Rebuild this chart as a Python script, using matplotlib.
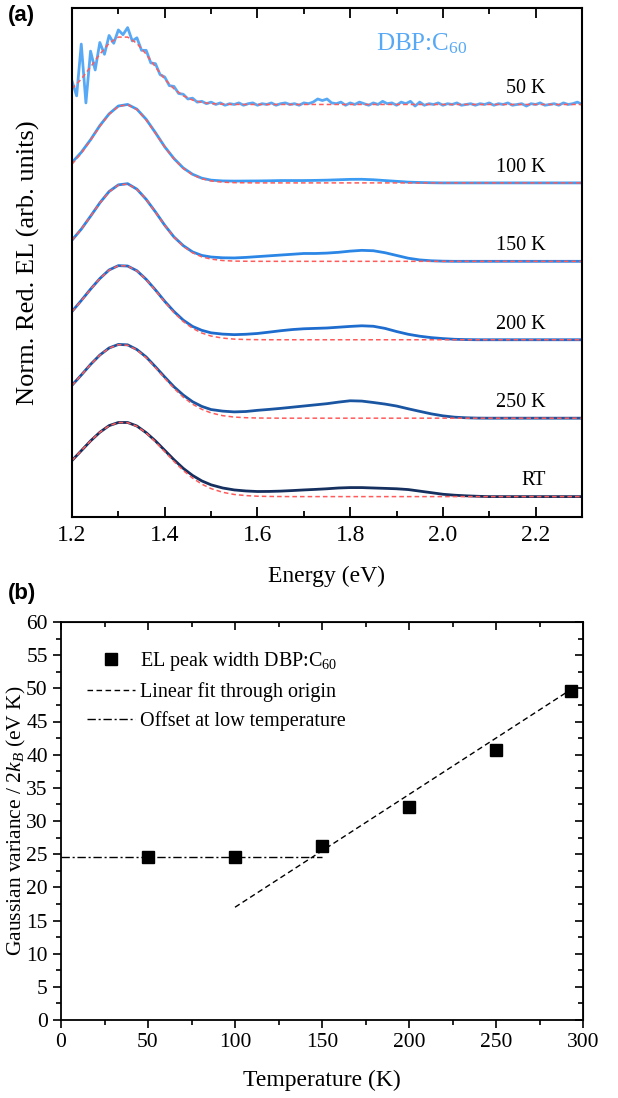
import matplotlib
matplotlib.use('Agg')
import matplotlib.pyplot as plt
from matplotlib.ticker import MultipleLocator, FormatStrFormatter
import numpy as np

plt.rcParams['font.family'] = ['Liberation Serif', 'DejaVu Serif']
plt.rcParams['mathtext.fontset'] = 'custom'
plt.rcParams['mathtext.rm'] = 'Liberation Serif'
plt.rcParams['mathtext.it'] = 'Liberation Serif:italic'

# ---------------- panel (a) data ----------------
energy = [1.20, 1.22, 1.24, 1.26, 1.28, 1.30, 1.32, 1.34, 1.36, 1.38, 1.40, 1.42,
          1.44, 1.46, 1.48, 1.50,
          1.525, 1.55, 1.575, 1.60, 1.625, 1.65, 1.675, 1.70, 1.725, 1.75, 1.775,
          1.80, 1.825, 1.85, 1.875, 1.90, 1.925, 1.95, 1.975, 2.00, 2.025, 2.05,
          2.075, 2.10,
          2.15, 2.20, 2.25, 2.30]

energy_50K = np.round(np.arange(1.20, 2.3001, 0.01), 2)
el_50K = [0.30, 0.11, 0.77, 0.02, 0.68, 0.44, 0.79, 0.64, 0.88, 0.78,
          0.95, 0.89, 0.98, 0.81, 0.85, 0.69, 0.69, 0.53, 0.52, 0.38,
          0.35, 0.24, 0.23, 0.14, 0.13, 0.07, 0.08, 0.03, 0.04, 0.01,
          0.03, 0.00, 0.02, -0.01, 0.01, 0.00, 0.02, -0.01, 0.01, 0.02,
          -0.01, 0.01, 0.00, 0.02, -0.01, 0.01, 0.02, 0.00, 0.01, -0.01,
          0.02, 0.01, 0.03, 0.07, 0.05, 0.07, 0.02, 0.01, 0.03, -0.01,
          0.02, 0.00, 0.03, 0.01, -0.01, 0.02, 0.00, 0.04, 0.01, 0.02,
          -0.01, 0.03, 0.01, 0.04, -0.02, 0.03, -0.01, 0.01, 0.00, 0.02,
          -0.01, 0.01, 0.00, 0.02, -0.01, 0.00, 0.01, -0.01, 0.01, 0.00,
          0.02, -0.01, 0.01, 0.00, 0.02, -0.01, 0.00, 0.01, -0.02, 0.01,
          0.00, 0.02, -0.01, 0.00, 0.01, -0.01, 0.02, 0.00, 0.01, 0.03,
          0.00]
fit_50K = [0.199, 0.324, 0.478, 0.641, 0.779, 0.859, 0.859, 0.779, 0.641, 0.478,
           0.324, 0.199, 0.111, 0.056, 0.026, 0.011,
           0.004, 0.001] + [0.0] * 22 + [0.0] * 4

el_100K = [0.26, 0.39, 0.55, 0.73, 0.88, 0.98, 1.00, 0.94, 0.81, 0.64, 0.46, 0.31,
           0.19, 0.11, 0.06, 0.035,
           0.025, 0.023, 0.024, 0.025, 0.027, 0.03, 0.03, 0.03, 0.032, 0.035,
           0.04, 0.045, 0.046, 0.04, 0.03, 0.02, 0.01, 0.005, 0.002, 0, 0, 0,
           0, 0,
           0, 0, 0, 0]
fit_100K = [0.239, 0.377, 0.544, 0.721, 0.876, 0.976, 0.997, 0.935, 0.803, 0.633,
            0.458, 0.304, 0.185, 0.103, 0.053, 0.025,
            0.009, 0.003, 0.001] + [0.0] * 21 + [0.0] * 4

el_150K = [0.27, 0.41, 0.575, 0.745, 0.89, 0.975, 0.99, 0.92, 0.79, 0.63, 0.46,
           0.31, 0.20, 0.12, 0.075, 0.055,
           0.045, 0.043, 0.05, 0.06, 0.07, 0.08, 0.09, 0.10, 0.10, 0.105, 0.115,
           0.13, 0.14, 0.135, 0.11, 0.075, 0.04, 0.018, 0.007, 0.002, 0, 0,
           0, 0,
           0, 0, 0, 0]
fit_150K = [0.269, 0.410, 0.575, 0.743, 0.886, 0.973, 0.985, 0.919, 0.790, 0.626,
            0.457, 0.308, 0.191, 0.109, 0.057, 0.028,
            0.010, 0.003, 0.001] + [0.0] * 21 + [0.0] * 4

el_200K = [0.36, 0.50, 0.645, 0.78, 0.89, 0.945, 0.94, 0.88, 0.77, 0.635, 0.49,
           0.36, 0.25, 0.17, 0.12, 0.088,
           0.072, 0.065, 0.07, 0.08, 0.097, 0.115, 0.13, 0.14, 0.145, 0.15, 0.16,
           0.17, 0.178, 0.172, 0.145, 0.105, 0.07, 0.045, 0.027, 0.015, 0.006,
           0.002, 0, 0,
           0, 0, 0, 0]
fit_200K = [0.358, 0.495, 0.642, 0.780, 0.887, 0.944, 0.941, 0.878, 0.767, 0.628,
            0.481, 0.345, 0.232, 0.146, 0.086, 0.047,
            0.021, 0.008, 0.003, 0.001] + [0.0] * 20 + [0.0] * 4

el_250K = [0.42, 0.55, 0.685, 0.805, 0.895, 0.94, 0.935, 0.875, 0.78, 0.655, 0.525,
           0.40, 0.295, 0.21, 0.15, 0.11,
           0.09, 0.08, 0.085, 0.10, 0.112, 0.125, 0.14, 0.155, 0.17, 0.185, 0.205,
           0.222, 0.218, 0.20, 0.18, 0.155, 0.12, 0.087, 0.055, 0.03, 0.013,
           0.005, 0.001, 0,
           0, 0, 0, 0]
fit_250K = [0.417, 0.550, 0.684, 0.804, 0.893, 0.937, 0.929, 0.870, 0.770, 0.644,
            0.509, 0.380, 0.268, 0.179, 0.113, 0.067,
            0.032, 0.014, 0.006, 0.002, 0.001] + [0.0] * 19 + [0.0] * 4

el_RT = [0.46, 0.585, 0.71, 0.82, 0.905, 0.945, 0.945, 0.90, 0.815, 0.71, 0.59,
         0.47, 0.36, 0.27, 0.20, 0.15,
         0.11, 0.085, 0.072, 0.065, 0.066, 0.07, 0.077, 0.085, 0.092, 0.10, 0.11,
         0.115, 0.115, 0.11, 0.105, 0.10, 0.09, 0.07, 0.05, 0.03, 0.018, 0.01,
         0.004, 0,
         0, 0, 0, 0]
fit_RT = [0.460, 0.586, 0.710, 0.820, 0.903, 0.945, 0.943, 0.896, 0.811, 0.698,
          0.573, 0.448, 0.333, 0.236, 0.159, 0.102,
          0.055, 0.027, 0.013, 0.005, 0.002, 0.001] + [0.0] * 18 + [0.0] * 4

temp_labels = ['50 K', '100 K', '150 K', '200 K', '250 K', 'RT']
offsets = [5, 4, 3, 2, 1, 0]
colors = ['#58A9F5', '#3C9BF2', '#2B86E6', '#1E6CCD', '#1A55A2', '#152F5E']
fit_color = '#FF5B5B'

# ---------------- panel (b) data ----------------
temperature = [50, 100, 150, 200, 250, 293]
variance = [24.6, 24.6, 26.3, 32.1, 40.7, 49.6]
fit_slope = 0.17
fit_T = [100, 293]
offset_level = 24.6
offset_T = [0, 150]

# ---------------- figure ----------------
W, H = 618, 1098
fig = plt.figure(figsize=(W / 100, H / 100), dpi=100)

ax1 = fig.add_axes([72 / W, 1 - 517 / H, (582 - 72) / W, (517 - 8) / H])
ax2 = fig.add_axes([61 / W, 1 - 1020 / H, (583 - 61) / W, (1020 - 622) / H])

# panel (a)
series = [(energy_50K, el_50K, fit_50K), (energy, el_100K, fit_100K),
          (energy, el_150K, fit_150K), (energy, el_200K, fit_200K),
          (energy, el_250K, fit_250K), (energy, el_RT, fit_RT)]
for (ex, el, ft), off, col, lab in zip(series, offsets, colors, temp_labels):
    ax1.plot(ex, np.array(el) + off, color=col, lw=2.0, solid_joinstyle='round')
    ax1.plot(energy, np.array(ft) + off, color=fit_color, lw=1.1, ls=(0, (3, 2)))
    ax1.text(2.222, off + 0.2, lab, ha='right', va='center', fontsize=14.5)

ax1.text(1.855, 5.77, 'DBP:C$_{60}$', color='#58A9F5', fontsize=18,
         ha='left', va='center')

ax1.set_xlim(1.2, 2.3)
ax1.set_ylim(-0.26, 6.23)
ax1.set_yticks([])
ax1.xaxis.set_major_locator(MultipleLocator(0.2))
ax1.xaxis.set_minor_locator(MultipleLocator(0.1))
ax1.xaxis.set_major_formatter(FormatStrFormatter('%.1f'))
ax1.tick_params(axis='x', which='both', direction='in', top=True, bottom=True,
                labelsize=17, width=1.3)
ax1.tick_params(axis='x', which='major', length=7, pad=6)
ax1.tick_params(axis='x', which='minor', length=4)
for s in ax1.spines.values():
    s.set_linewidth(1.5)
ax1.set_xlabel('Energy (eV)', fontsize=17, labelpad=14)
ax1.set_ylabel('Norm. Red. EL (arb. units)', fontsize=19)
ax1.yaxis.set_label_coords(-0.062, 0.5)

fig.text(8 / W, 1 - 16 / H, '(a)', fontsize=16, fontweight='bold',
         family='Liberation Sans', ha='left', va='center')
fig.text(8 / W, 1 - 594 / H, '(b)', fontsize=16, fontweight='bold',
         family='Liberation Sans', ha='left', va='center')

# panel (b)
ax2.plot(temperature, variance, ls='none', marker='s', ms=9, color='black',
         label='EL peak width DBP:C$_{60}$', zorder=3)
fit_x = np.array(fit_T)
ax2.plot(fit_x, fit_slope * fit_x, color='black', lw=1.0, ls=(0, (4, 2.5)),
         label='Linear fit through origin')
ax2.plot(offset_T, [offset_level, offset_level], color='black', lw=1.0,
         ls=(0, (6, 2, 1.5, 2)), label='Offset at low temperature')

ax2.set_xlim(0, 300)
ax2.set_ylim(0, 60)
ax2.xaxis.set_major_locator(MultipleLocator(50))
ax2.xaxis.set_minor_locator(MultipleLocator(25))
ax2.yaxis.set_major_locator(MultipleLocator(5))
ax2.yaxis.set_minor_locator(MultipleLocator(2.5))
ax2.tick_params(which='both', direction='out', labelsize=15.5, width=1.2)
ax2.tick_params(which='major', length=6)
ax2.tick_params(which='minor', length=3.5)
for s in ax2.spines.values():
    s.set_linewidth(1.3)
axt = ax2.secondary_xaxis('top')
axt.xaxis.set_major_locator(MultipleLocator(50))
axt.xaxis.set_minor_locator(MultipleLocator(25))
axt.tick_params(which='both', direction='in', labeltop=False, width=1.2)
axt.tick_params(which='major', length=6)
axt.tick_params(which='minor', length=3.5)
axr = ax2.secondary_yaxis('right')
axr.yaxis.set_major_locator(MultipleLocator(5))
axr.yaxis.set_minor_locator(MultipleLocator(2.5))
axr.tick_params(which='both', direction='in', labelright=False, width=1.2)
axr.tick_params(which='major', length=6)
axr.tick_params(which='minor', length=3.5)

ax2.set_xlabel('Temperature (K)', fontsize=17, labelpad=13)
ax2.set_ylabel('Gaussian variance / 2$k_B$ (eV K)', fontsize=15.5)
ax2.yaxis.set_label_coords(-0.063, 0.5)

leg = ax2.legend(loc='upper left', bbox_to_anchor=(0.05, 0.93), frameon=False,
                 fontsize=14.5, handlelength=2.4, handletextpad=0.25,
                 borderpad=0, borderaxespad=0, labelspacing=0.45, markerscale=0.9)

fig.savefig('out.png', dpi=100)
